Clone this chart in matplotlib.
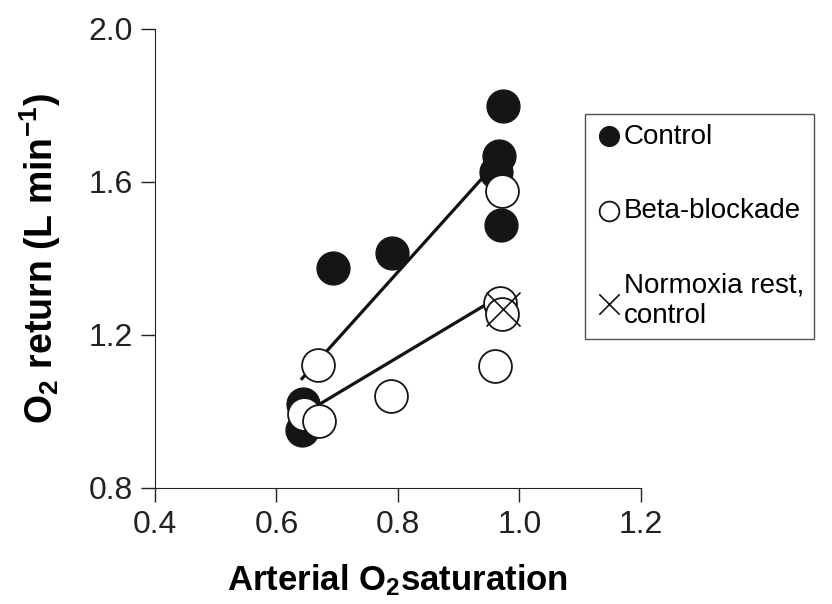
import numpy as np
import matplotlib
matplotlib.use("Agg")
import matplotlib.pyplot as plt

plt.rcParams['font.family'] = ['Liberation Sans', 'DejaVu Sans']
plt.rcParams['mathtext.default'] = 'regular'

control_x = [0.642, 0.644, 0.693, 0.790, 0.961, 0.966, 0.970, 0.973]
control_y = [0.952, 1.020, 1.375, 1.414, 1.626, 1.668, 1.488, 1.799]
beta_x = [0.645, 0.670, 0.668, 0.788, 0.960, 0.968, 0.971, 0.971]
beta_y = [0.993, 0.975, 1.122, 1.040, 1.119, 1.284, 1.255, 1.576]
rest_x = [0.973]
rest_y = [1.268]

x_ticks = [0.4, 0.6, 0.8, 1.0, 1.2]
y_ticks = [0.8, 1.2, 1.6, 2.0]

fig = plt.figure(figsize=(8.32, 6.04), dpi=100)
ax = fig.add_axes([0.1863, 0.1921, 0.5841, 0.7599])

# regression lines
for xs, ys in [(control_x, control_y), (beta_x, beta_y)]:
    k, b = np.polyfit(xs, ys, 1)
    lx = np.array([min(xs), max(xs)])
    ax.plot(lx, k * lx + b, color='#111111', lw=2.3, zorder=2)

ax.scatter(control_x, control_y, s=560, facecolor='#151515', edgecolor='#151515',
           lw=1, zorder=3, label='Control')
ax.scatter(beta_x, beta_y, s=560, facecolor='white', edgecolor='#151515',
           lw=1.3, zorder=4, label='Beta-blockade')
ax.scatter(rest_x, rest_y, s=600, marker='x', color='#151515', lw=1.2,
           zorder=5, label='Normoxia rest,\ncontrol')

ax.set_xlim(0.4, 1.2)
ax.set_ylim(0.8, 2.0)
ax.set_xticks(x_ticks)
ax.set_yticks(y_ticks)
ax.set_xticklabels([f'{v:.1f}' for v in x_ticks])
ax.set_yticklabels([f'{v:.1f}' for v in y_ticks])
ax.tick_params(direction='out', length=10, width=1, labelsize=23, pad=6, colors='#222222')
ax.spines['top'].set_visible(False)
ax.spines['right'].set_visible(False)
for s in ['left', 'bottom']:
    ax.spines[s].set_color('#222222')

ax.set_xlabel('Arterial O$_2$saturation', fontsize=25, fontweight='bold', labelpad=16)
ax.set_ylabel('O$_2$ return (L min$^{-1}$)', fontsize=27, fontweight='bold', labelpad=18)

leg = fig.legend(loc='upper left', bbox_to_anchor=(585 / 832, 1 - 114 / 604),
                 frameon=True, fancybox=False, edgecolor='#222222', fontsize=20,
                 markerscale=0.6, handletextpad=0.05, handlelength=1.0,
                 labelspacing=1.75, borderpad=0.35, borderaxespad=0)
leg.get_frame().set_linewidth(1)

fig.savefig('out.png', dpi=100)
